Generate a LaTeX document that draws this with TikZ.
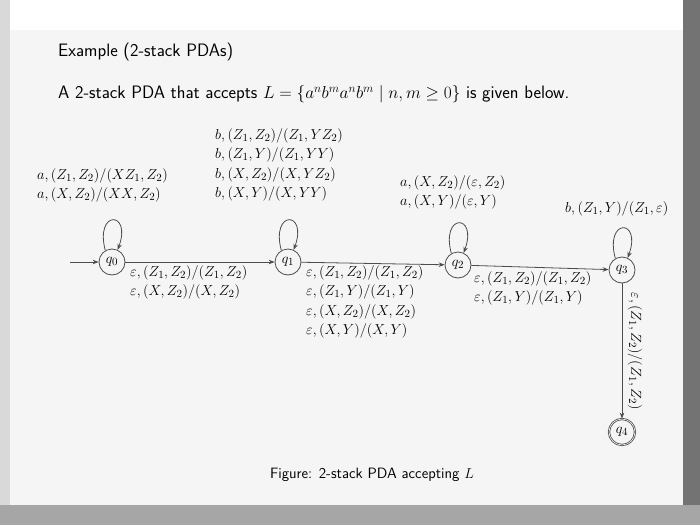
\documentclass[tikz,border=0pt]{standalone}
\usetikzlibrary{arrows.meta}
\begin{document}
\begin{tikzpicture}[x=1pt,y=-1pt,
  st/.style={circle,draw=black!70,thick,minimum size=26pt,inner sep=0pt,font=\fontsize{15}{17}\selectfont},
  lab/.style={anchor=north west,align=left,font=\fontsize{15}{19.5}\selectfont,inner sep=0pt},
  ed/.style={draw=black!70,thick,-{Stealth[length=6pt]}},
  txt/.style={anchor=west,font=\sffamily\fontsize{18}{22}\selectfont,inner sep=0pt}]
\fill[black!15] (0,0) rectangle (700,525);
\fill[black!4] (10,0) rectangle (683,505);
\fill[white] (10,0) rectangle (683,30);
\fill[black!55] (683,0) rectangle (700,525);
\fill[black!35] (0,505) rectangle (700,525);
\useasboundingbox (0,0) rectangle (700,525);
\node[txt] (t1) at (58,52) {Example (2-stack PDAs)};
\node[txt] (t2) at (58,94) {A 2-stack PDA that accepts $L=\{a^nb^ma^nb^m \mid n,m\ge 0\}$ is given below.};
\node[st] (q0) at (112,262) {$q_0$};
\node[st] (q1) at (288,262) {$q_1$};
\node[st] (q2) at (458,265) {$q_2$};
\node[st] (q3) at (622,270) {$q_3$};
\node[st,double] (q4) at (622,432) {$q_4$};
\coordinate (s) at (70,262);
\draw[ed] (s) -- (q0);
\draw[ed] (q0) -- (q1);
\draw[ed] (q1) -- (q2);
\draw[ed] (q2) -- (q3);
\draw[ed] (q3) -- node[rotate=-90,anchor=south,font=\fontsize{15}{17}\selectfont,yshift=2pt] {$\varepsilon,(Z_1,Z_2)/(Z_1,Z_2)$} (q4);
\foreach \q in {q0,q1,q2,q3}
  \draw[ed] (\q.120) .. controls +(-105:42) and +(-70:42) .. (\q.65);
\node[lab] (l0) at (37,168) {$a,(Z_1,Z_2)/(XZ_1,Z_2)$\\$a,(X,Z_2)/(XX,Z_2)$};
\node[lab] (l1) at (215,128) {$b,(Z_1,Z_2)/(Z_1,YZ_2)$\\$b,(Z_1,Y)/(Z_1,YY)$\\$b,(X,Z_2)/(X,YZ_2)$\\$b,(X,Y)/(X,YY)$};
\node[lab] (l2) at (400,175) {$a,(X,Z_2)/(\varepsilon,Z_2)$\\$a,(X,Y)/(\varepsilon,Y)$};
\node[lab] (l3) at (565,201) {$b,(Z_1,Y)/(Z_1,\varepsilon)$};
\node[lab] (e0) at (130,265) {$\varepsilon,(Z_1,Z_2)/(Z_1,Z_2)$\\$\varepsilon,(X,Z_2)/(X,Z_2)$};
\node[lab] (e1) at (306,265) {$\varepsilon,(Z_1,Z_2)/(Z_1,Z_2)$\\$\varepsilon,(Z_1,Y)/(Z_1,Y)$\\$\varepsilon,(X,Z_2)/(X,Z_2)$\\$\varepsilon,(X,Y)/(X,Y)$};
\node[lab] (e2) at (474,271) {$\varepsilon,(Z_1,Z_2)/(Z_1,Z_2)$\\$\varepsilon,(Z_1,Y)/(Z_1,Y)$};
\node[font=\sffamily\fontsize{15}{17}\selectfont] (cap) at (372,475) {Figure: 2-stack PDA accepting $L$};
\end{tikzpicture}
\end{document}
